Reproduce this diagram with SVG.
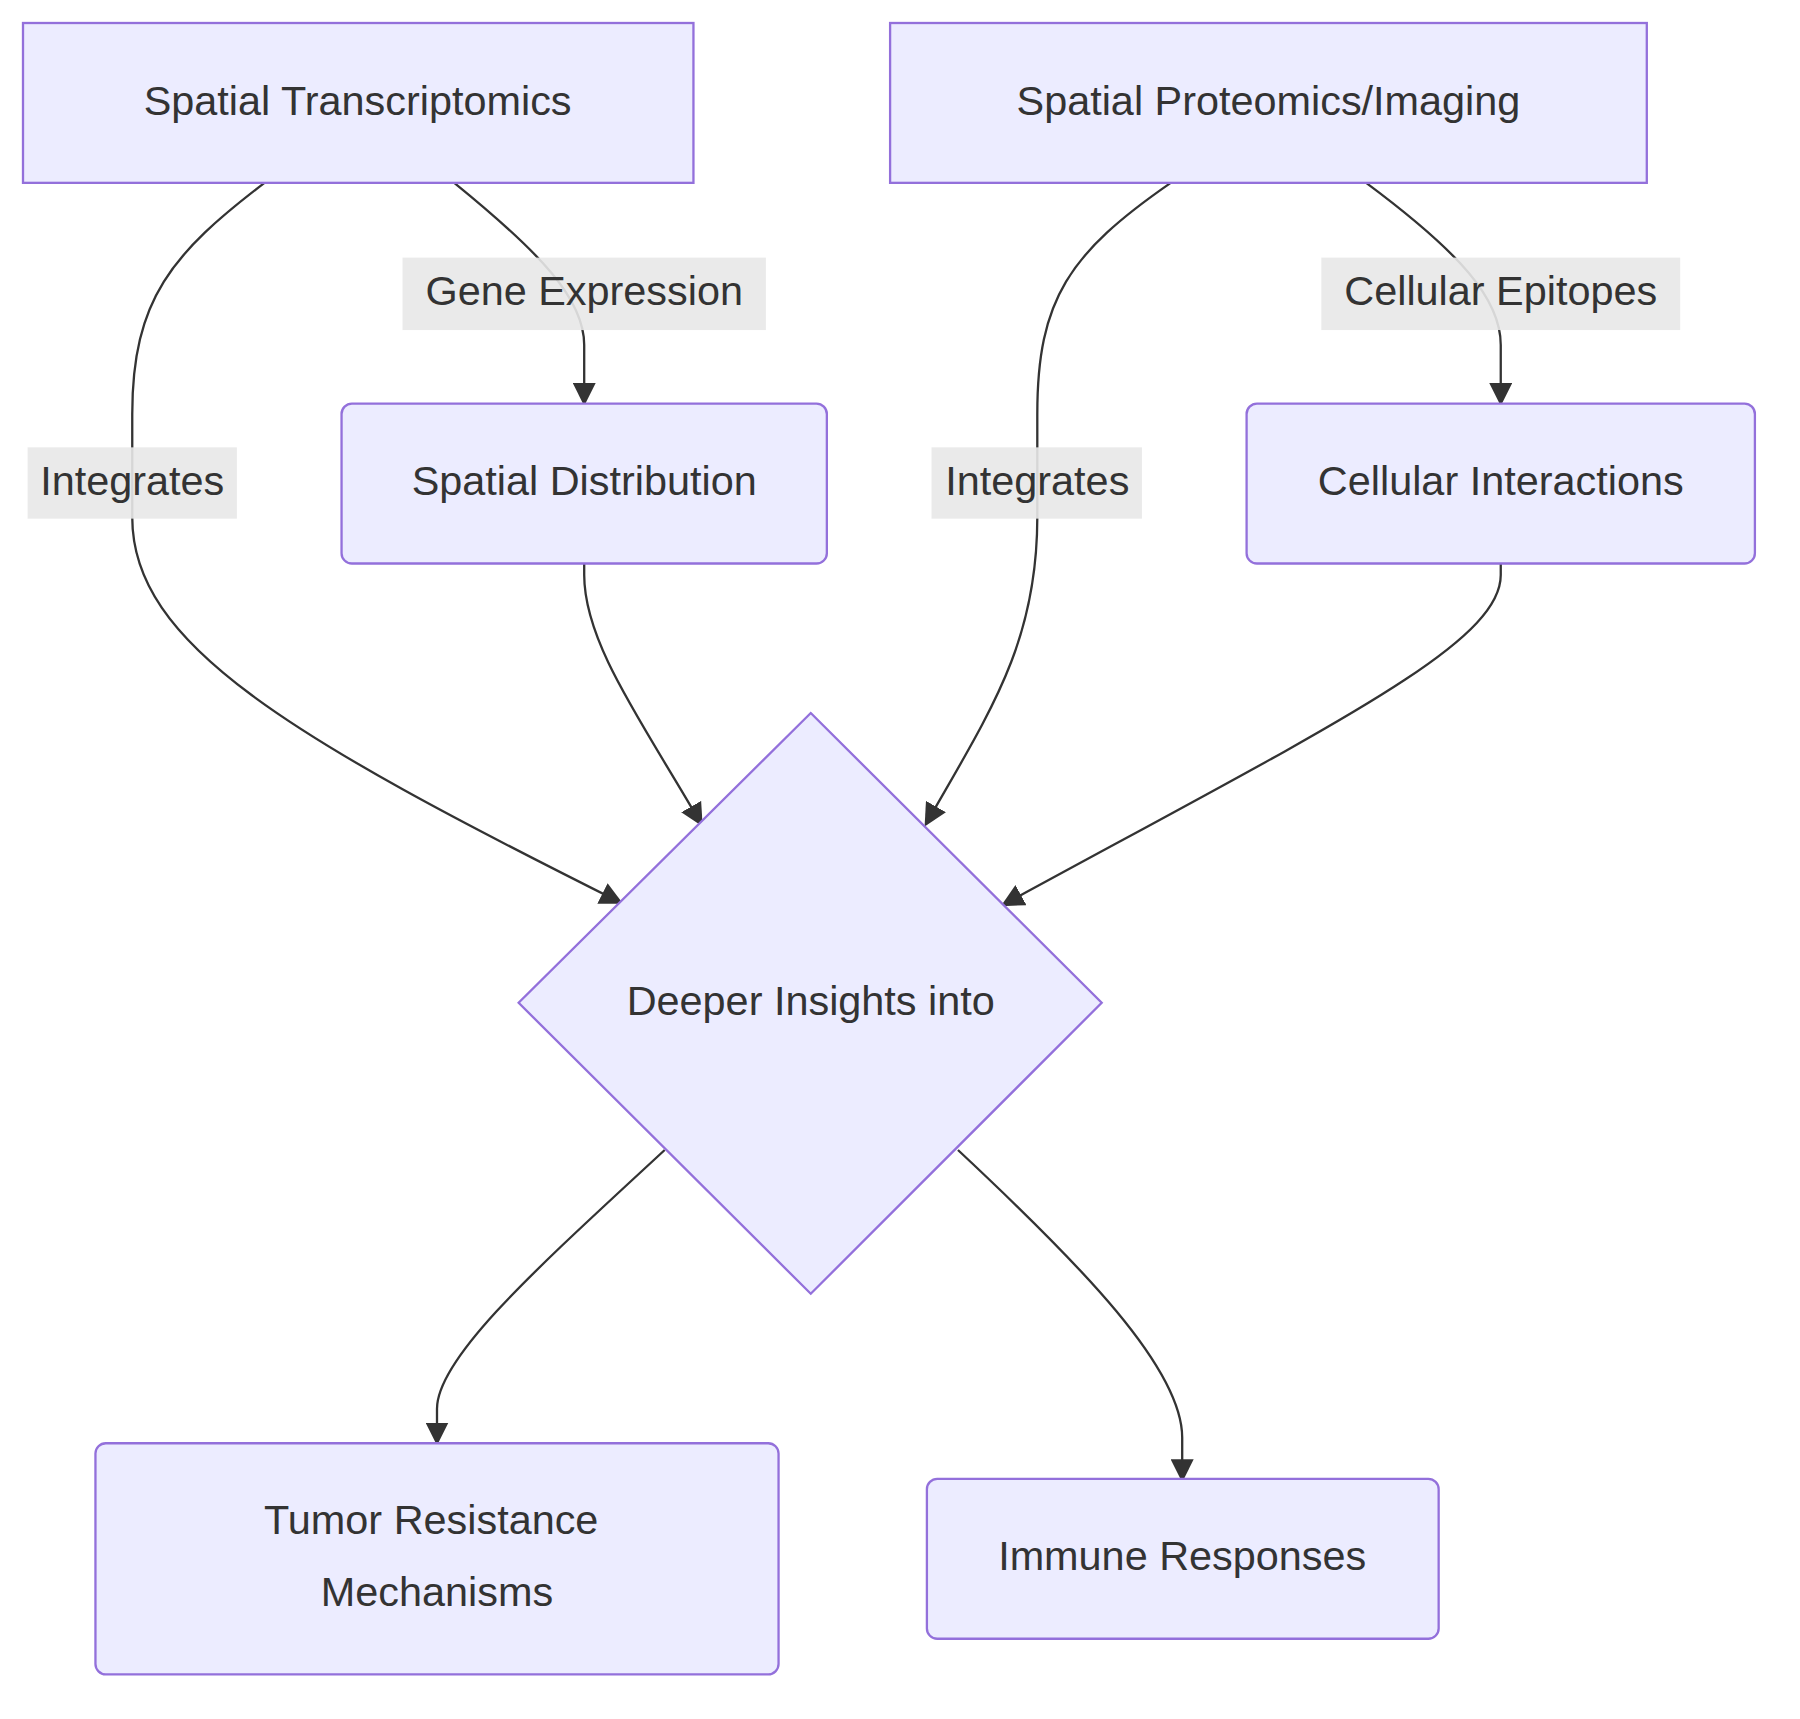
<svg xmlns="http://www.w3.org/2000/svg" width="1800" height="1719" viewBox="0 0 1800 1719">
<style>
.n{fill:#ececff;stroke:#9370db;stroke-width:2}
.t{font-family:"Liberation Sans",Arial,sans-serif;font-size:36px;fill:#333;text-anchor:middle;dominant-baseline:central}
.e{fill:none;stroke:#333;stroke-width:2}
.lb{fill:#e8e8e8;opacity:0.9}
</style>
<defs><marker id="a" viewBox="0 0 10 10" refX="9" refY="5" markerWidth="9" markerHeight="9" markerUnits="userSpaceOnUse" orient="auto"><path d="M0,0L10,5L0,10z" fill="#333"/></marker>
<marker id="b" viewBox="0 0 10 10" refX="9" refY="5" markerWidth="20" markerHeight="20" markerUnits="userSpaceOnUse" orient="auto"><path d="M0,0L10,5L0,10z" fill="#333"/></marker></defs>
<rect width="1800" height="1719" fill="#fff"/>
<g transform="scale(1.15)">
<g id="connectors">
<path class="e" marker-end="url(#b)" d="M230,159C150,220 115,260 115,360L115,450C115,560 250,640 540,785"/>
<path class="e" marker-end="url(#b)" d="M395,159C470,220 508,260 508,300L508,351"/>
<path class="e" marker-end="url(#b)" d="M1018,159C930,220 902,260 902,360L902,450C902,560 860,620 805,717"/>
<path class="e" marker-end="url(#b)" d="M1188,159C1270,220 1305,260 1305,300L1305,351"/>
<path class="e" marker-end="url(#b)" d="M508,490L508,500C508,560 560,630 610,717"/>
<path class="e" marker-end="url(#b)" d="M1305,490L1305,500C1305,560 1160,630 872,787"/>
<path class="e" marker-end="url(#b)" d="M578,1000C470,1100 380,1180 380,1225L380,1255"/>
<path class="e" marker-end="url(#b)" d="M833,1000C940,1100 1028,1190 1028,1250L1028,1287"/>
<rect class="lb" x="24" y="389" width="182" height="62"/><text class="t" x="115" y="418">Integrates</text>
<rect class="lb" x="350" y="224" width="316" height="63"/><text class="t" x="508" y="253">Gene Expression</text>
<rect class="lb" x="810" y="389" width="183" height="62"/><text class="t" x="902" y="418">Integrates</text>
<rect class="lb" x="1149" y="224" width="312" height="63"/><text class="t" x="1305" y="253">Cellular Epitopes</text>
</g>
<g id="st"><rect class="n" x="20" y="20" width="583" height="139"/><text class="t" x="311" y="88">Spatial Transcriptomics</text></g>
<g id="spi"><rect class="n" x="774" y="20" width="658" height="139"/><text class="t" x="1103" y="88">Spatial Proteomics/Imaging</text></g>
<g id="sd"><rect class="n" x="297" y="351" width="422" height="139" rx="9"/><text class="t" x="508" y="418">Spatial Distribution</text></g>
<g id="ci"><rect class="n" x="1084" y="351" width="442" height="139" rx="9"/><text class="t" x="1305" y="418">Cellular Interactions</text></g>
<g id="di"><polygon class="n" points="705,620 958,872 705,1125 451,872"/><text class="t" x="705" y="870">Deeper Insights into</text></g>
<g id="tr"><rect class="n" x="83" y="1255" width="594" height="201" rx="9"/><text class="t" x="375" y="1322">Tumor Resistance</text><text class="t" x="380" y="1384">Mechanisms</text></g>
<g id="ir"><rect class="n" x="806" y="1286" width="445" height="139" rx="9"/><text class="t" x="1028" y="1353">Immune Responses</text></g>
</g>
</svg>
